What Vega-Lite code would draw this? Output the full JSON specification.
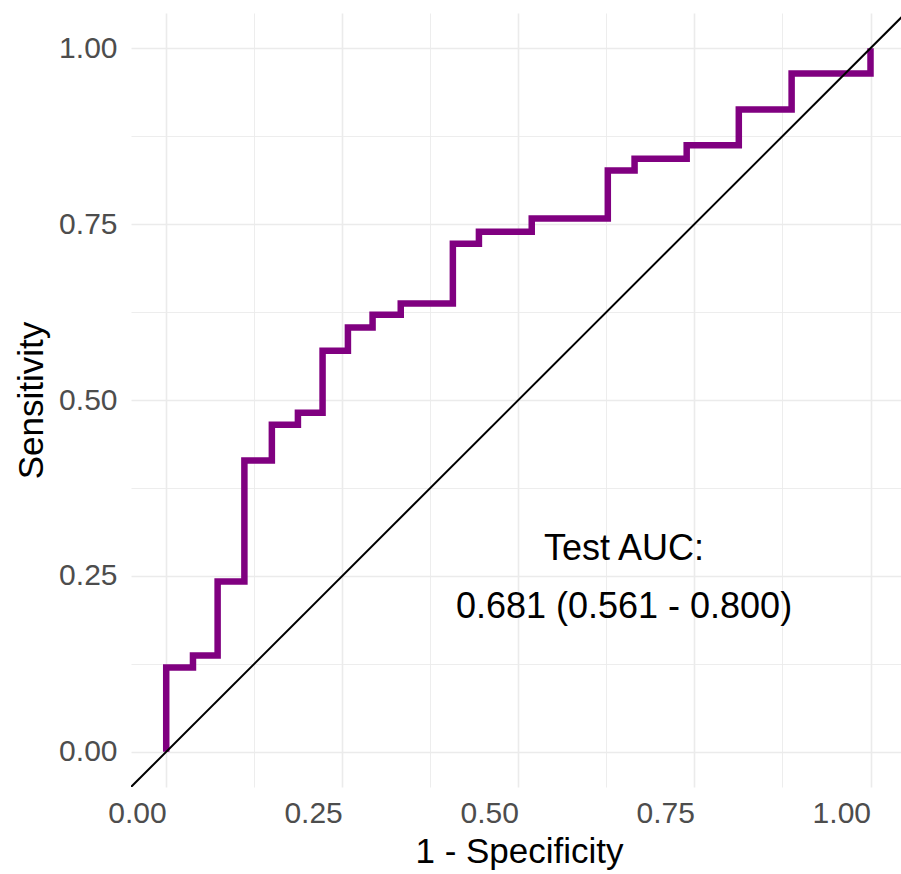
{
  "$schema": "https://vega.github.io/schema/vega-lite/v6.json",
  "autosize": "none",
  "width": 770,
  "height": 774,
  "padding": {"left": 131, "top": 13, "right": 0, "bottom": 87},
  "background": "white",
  "config": {
    "view": {"stroke": null},
    "font": "Liberation Sans",
    "axis": {
      "domain": false,
      "ticks": false,
      "gridColor": "#EBEBEB",
      "labelFontSize": 30,
      "labelColor": "#4D4D4D",
      "labelOverlap": false,
      "labelBound": false,
      "labelFlush": false,
      "titleFontSize": 35,
      "titleFontWeight": "normal",
      "titleColor": "black"
    }
  },
  "datasets": {
    "roc": [
      {"i": 0, "fpr": 0.0, "tpr": 0.0},
      {"i": 1, "fpr": 0.038, "tpr": 0.12},
      {"i": 2, "fpr": 0.073, "tpr": 0.137},
      {"i": 3, "fpr": 0.111, "tpr": 0.242},
      {"i": 4, "fpr": 0.15, "tpr": 0.414},
      {"i": 5, "fpr": 0.187, "tpr": 0.465},
      {"i": 6, "fpr": 0.222, "tpr": 0.482},
      {"i": 7, "fpr": 0.258, "tpr": 0.57},
      {"i": 8, "fpr": 0.293, "tpr": 0.603},
      {"i": 9, "fpr": 0.333, "tpr": 0.621},
      {"i": 10, "fpr": 0.407, "tpr": 0.637},
      {"i": 11, "fpr": 0.444, "tpr": 0.722},
      {"i": 12, "fpr": 0.519, "tpr": 0.739},
      {"i": 13, "fpr": 0.627, "tpr": 0.758},
      {"i": 14, "fpr": 0.665, "tpr": 0.826},
      {"i": 15, "fpr": 0.739, "tpr": 0.843},
      {"i": 16, "fpr": 0.813, "tpr": 0.862},
      {"i": 17, "fpr": 0.888, "tpr": 0.913},
      {"i": 18, "fpr": 1.0, "tpr": 0.964},
      {"i": 19, "fpr": 1.0, "tpr": 1.0}
    ],
    "ref": [{"fpr": -0.05, "tpr": -0.05, "fpr2": 1.1, "tpr2": 1.1}],
    "note": [{"fpr": 0.65, "tpr": 0.25, "label": "Test AUC:\n0.681 (0.561 - 0.800)"}]
  },
  "layer": [
    {
      "data": {"name": "roc"},
      "mark": {"type": "line", "interpolate": "step-before", "color": "#800080", "strokeWidth": 6.5, "strokeJoin": "miter", "clip": true},
      "encoding": {
        "x": {
          "field": "fpr", "type": "quantitative",
          "scale": {"domain": [-0.05, 1.0433], "nice": false, "zero": false},
          "axis": {
            "values": [0, 0.125, 0.25, 0.375, 0.5, 0.625, 0.75, 0.875, 1],
            "labelExpr": "datum.value % 0.25 === 0 ? format(datum.value, '.2f') : ''",
            "gridWidth": {"condition": {"test": "datum.value % 0.25 === 0", "value": 1.6}, "value": 0.9},
            "labelAlign": "right",
            "labelBaseline": "top",
            "labelPadding": 11,
            "title": "1 - Specificity",
            "titleX": 388,
            "titleY": 75,
            "titleBaseline": "alphabetic",
            "titleAlign": "center"
          }
        },
        "y": {
          "field": "tpr", "type": "quantitative",
          "scale": {"domain": [-0.05, 1.05], "nice": false, "zero": false},
          "axis": {
            "values": [0, 0.125, 0.25, 0.375, 0.5, 0.625, 0.75, 0.875, 1],
            "labelExpr": "datum.value % 0.25 === 0 ? format(datum.value, '.2f') : ''",
            "gridWidth": {"condition": {"test": "datum.value % 0.25 === 0", "value": 1.6}, "value": 0.9},
            "labelAlign": "right",
            "labelBaseline": "middle",
            "labelPadding": 14,
            "title": "Sensitivity",
            "titleAngle": 270,
            "titleX": -89,
            "titleY": 387,
            "titleBaseline": "alphabetic",
            "titleAlign": "center"
          }
        },
        "order": {"field": "i", "type": "quantitative"}
      }
    },
    {
      "data": {"name": "ref"},
      "mark": {"type": "rule", "color": "black", "strokeWidth": 2, "clip": true},
      "encoding": {
        "x": {"field": "fpr", "type": "quantitative"},
        "y": {"field": "tpr", "type": "quantitative"},
        "x2": {"field": "fpr2"},
        "y2": {"field": "tpr2"}
      }
    },
    {
      "data": {"name": "note"},
      "mark": {"type": "text", "fontSize": 36, "color": "black", "align": "center", "baseline": "middle", "lineBreak": "\n", "lineHeight": 58, "dy": -27},
      "encoding": {
        "x": {"field": "fpr", "type": "quantitative"},
        "y": {"field": "tpr", "type": "quantitative"},
        "text": {"field": "label"}
      }
    }
  ]
}
